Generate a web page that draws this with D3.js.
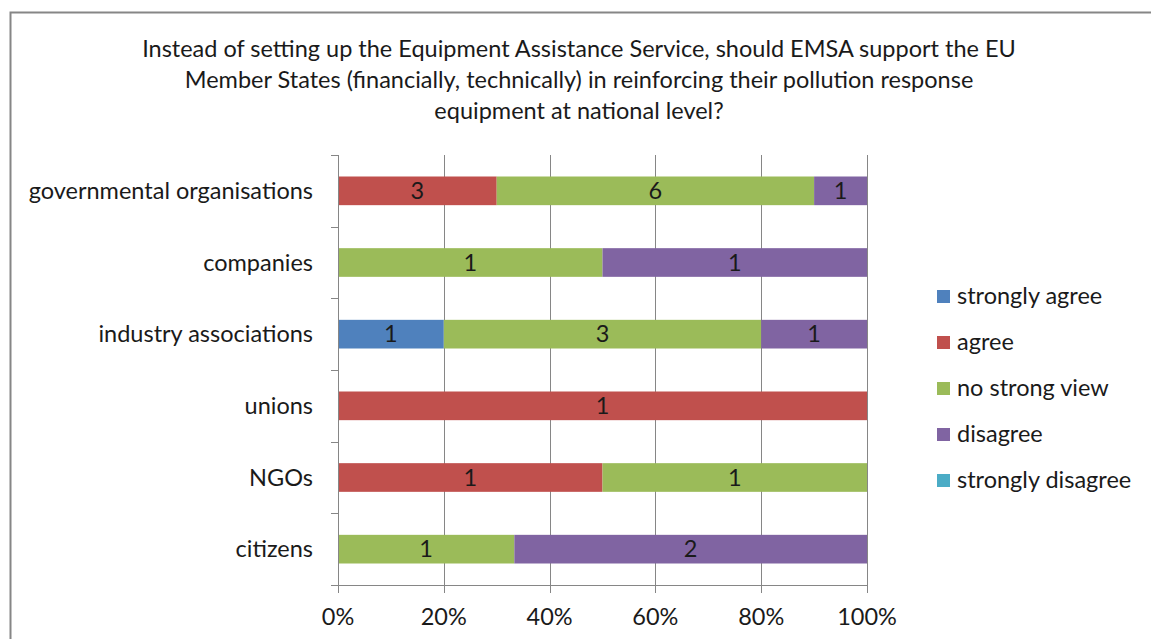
<!DOCTYPE html>
<html><head><meta charset="utf-8">
<script src="https://cdn.jsdelivr.net/npm/d3@7"></script>
<style>body{margin:0;background:#fff;}svg{display:block;font-family:Lato,"Open Sans",sans-serif;}</style>
</head><body>
<svg id="c" width="1151" height="639"></svg>
<script>
const titleLines = ["Instead of setting up the Equipment Assistance Service, should EMSA support the EU",
  "Member States (financially, technically) in reinforcing their pollution response",
  "equipment at national level?"];
const categories = ["governmental organisations","companies","industry associations","unions","NGOs","citizens"];
const seriesNames = ["strongly agree","agree","no strong view","disagree","strongly disagree"];
const seriesColors = ["#4F81BD","#C0504D","#9BBB59","#8064A2","#4BACC6"];
const stronglyAgree    = [0,0,1,0,0,0];
const agree            = [3,0,0,1,1,0];
const noStrongView     = [6,1,3,0,1,1];
const disagree         = [1,1,1,0,0,2];
const stronglyDisagree = [0,0,0,0,0,0];
const xTicks = [0,0.2,0.4,0.6,0.8,1];

const seriesValues = [stronglyAgree, agree, noStrongView, disagree, stronglyDisagree];
const svg = d3.select("#c");
const textColor = "#1a1a1a";
const gridColor = "#868686";
const fs = 23.5;

svg.append("rect").attr("x",10.5).attr("y",12.5).attr("width",1160).attr("height",650)
  .attr("fill","#fff").attr("stroke","#868686").attr("stroke-width",2);

svg.append("g").selectAll("text").data(titleLines).join("text")
  .attr("x",579).attr("y",(d,i)=>57+i*31).attr("text-anchor","middle")
  .attr("font-size",fs).attr("fill",textColor).text(d=>d);

const x = d3.scaleLinear().domain([0,1]).range([338,867]);
const y = d3.scaleBand().domain(categories).range([155,585]).paddingInner(0.6).paddingOuter(0.3);

// gridlines
svg.append("g").selectAll("line").data(xTicks).join("line")
  .attr("x1",d=>Math.round(x(d))+0.5).attr("x2",d=>Math.round(x(d))+0.5)
  .attr("y1",155).attr("y2",593).attr("stroke",gridColor).attr("stroke-width",1);

// bars
const stackData = categories.map((c,i)=>{
  const total = d3.sum(seriesValues, s=>s[i]);
  let acc = 0;
  return seriesValues.map((s,k)=>{ const v=s[i]; const x0=acc/total; acc+=v; return {cat:c, k, v, x0, x1:acc/total}; });
});
const segs = stackData.flat().filter(d=>d.v>0);
svg.append("g").selectAll("rect").data(segs).join("rect")
  .attr("x",d=>x(d.x0)).attr("width",d=>x(d.x1)-x(d.x0))
  .attr("y",d=>y(d.cat)).attr("height",y.bandwidth())
  .attr("fill",d=>seriesColors[d.k]);
svg.append("g").selectAll("text").data(segs).join("text")
  .attr("x",d=>(x(d.x0)+x(d.x1))/2).attr("y",d=>y(d.cat)+y.bandwidth()/2+8)
  .attr("text-anchor","middle").attr("font-size",fs).attr("fill",textColor).text(d=>d.v);

// y axis
const yb = [155, ...categories.map(c=>y(c)+y.bandwidth()/2+y.step()/2)];
svg.append("line").attr("x1",338.5).attr("x2",338.5).attr("y1",155).attr("y2",585).attr("stroke",gridColor);
svg.append("g").selectAll("line").data(yb).join("line")
  .attr("x1",331).attr("x2",338).attr("y1",d=>Math.round(d)+0.5).attr("y2",d=>Math.round(d)+0.5).attr("stroke",gridColor);
svg.append("g").selectAll("text").data(categories).join("text")
  .attr("x",313).attr("y",d=>y(d)+y.bandwidth()/2+8).attr("text-anchor","end")
  .attr("font-size",fs).attr("fill",textColor).text(d=>d);

// x axis
svg.append("line").attr("x1",331).attr("x2",867).attr("y1",585.5).attr("y2",585.5).attr("stroke",gridColor);
svg.append("g").selectAll("text").data(xTicks).join("text")
  .attr("x",d=>x(d)).attr("y",625).attr("text-anchor","middle")
  .attr("font-size",fs).attr("fill",textColor).text(d3.format(".0%"));

// legend
const lg = svg.append("g").selectAll("g").data(seriesNames).join("g")
  .attr("transform",(d,i)=>`translate(937,${296+i*46})`);
lg.append("rect").attr("x",0).attr("y",-6).attr("width",13).attr("height",13).attr("fill",(d,i)=>seriesColors[i]);
lg.append("text").attr("x",20).attr("y",8).attr("font-size",fs).attr("fill",textColor).text(d=>d);
</script>
</body></html>
